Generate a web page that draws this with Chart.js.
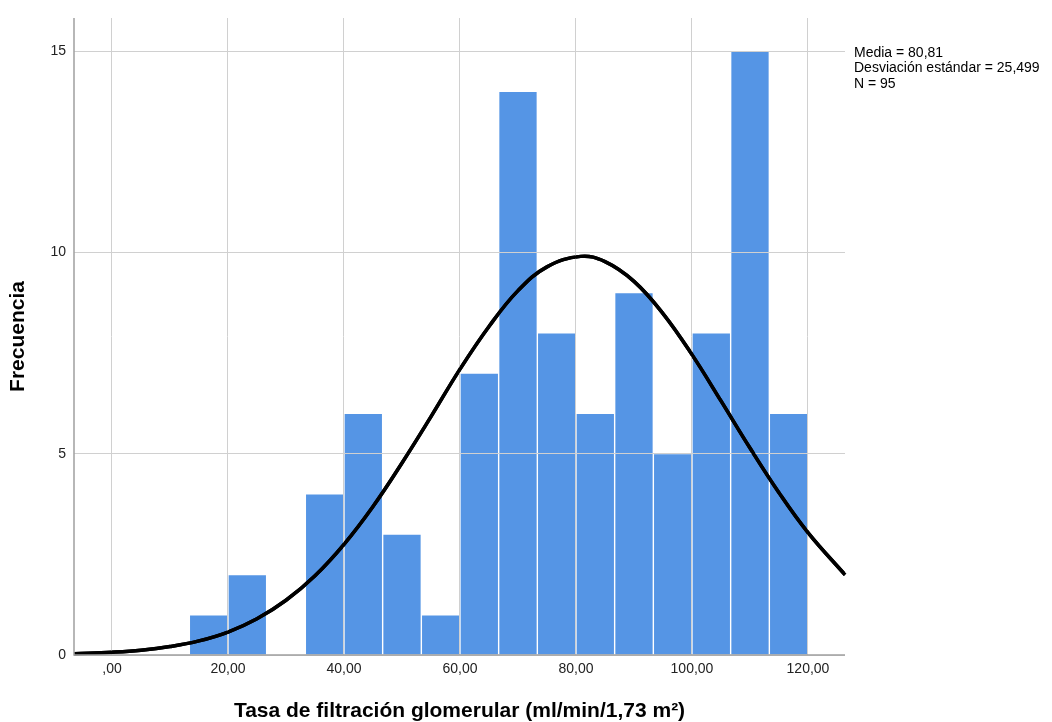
<!DOCTYPE html>
<html>
<head>
<meta charset="utf-8">
<script src="https://cdn.jsdelivr.net/npm/chart.js@4.4.0/dist/chart.umd.min.js"></script>
<style>
  html, body { margin: 0; padding: 0; background: #fff; }
  #wrap { width: 1052px; height: 722px; }
</style>
</head>
<body>
<div id="wrap"><canvas id="histChart" width="1052" height="722"></canvas></div>
<script>
// bin centres (width 6,667) and counts
const binCenters = [16.67, 23.33, 30.00, 36.67, 43.33, 50.00, 56.67, 63.33,
                    70.00, 76.67, 83.33, 90.00, 96.67, 103.33, 110.00, 116.67];
const counts = [1, 2, 0, 4, 6, 3, 1, 7, 14, 8, 6, 9, 5, 8, 15, 6];

// normal curve
const curveX = [-6.5, 0, 5, 10, 15, 20, 25, 30, 35, 40, 45, 50, 55, 60, 65,
                70, 75, 80.8, 85, 90, 95, 100, 105, 110, 115, 120, 126.4];
const curveY = [0.03, 0.07, 0.12, 0.21, 0.35, 0.57, 0.9, 1.36, 1.97, 2.75, 3.69, 4.77, 5.92, 7.1, 8.16,
                9.05, 9.64, 9.9, 9.77, 9.28, 8.48, 7.46, 6.31, 5.14, 4.03, 3.04, 1.99];

const xTicks = [0, 20, 40, 60, 80, 100, 120];
const yTicks = [0, 5, 10, 15];
const statsLines = ['Media = 80,81', 'Desviación estándar = 25,499', 'N = 95'];

const fontFamily = '"Liberation Sans", Arial, sans-serif';

// axis lines, curve on top of the grid, and the stats box
const extras = {
    id: 'extras',
    afterDraw(chart) {
        const c = chart.ctx;
        const a = chart.chartArea;
        chart.getDatasetMeta(0).controller.draw();
        c.save();
        c.strokeStyle = '#a0a0a0';
        c.lineWidth = 1.5;
        c.beginPath();
        c.moveTo(a.left, a.top);
        c.lineTo(a.left, a.bottom);
        c.lineTo(a.right, a.bottom);
        c.stroke();
        c.fillStyle = '#000';
        c.font = '14px ' + fontFamily;
        c.textBaseline = 'middle';
        statsLines.forEach((t, i) => c.fillText(t, a.right + 9, 53 + i * 15.5));
        c.restore();
    }
};

const ctx = document.getElementById('histChart').getContext('2d');
const histChart = new Chart(ctx, {
    type: 'bar',
    data: {
        datasets: [{
            type: 'line',
            data: curveX.map((x, i) => ({ x: x, y: curveY[i] })),
            borderColor: '#000',
            borderWidth: 3.5,
            pointRadius: 0,
            tension: 0.4,
            fill: false,
            order: 0
        }, {
            type: 'bar',
            data: binCenters.map((x, i) => ({ x: x, y: counts[i] })),
            backgroundColor: '#5595e5',
            borderColor: '#ffffff',
            borderWidth: 1,
            barPercentage: 1,
            categoryPercentage: 1,
            order: 1
        }]
    },
    options: {
        responsive: false,
        animation: false,
        layout: { padding: { left: 0, top: 18, right: 207, bottom: 0 } },
        plugins: {
            legend: { display: false },
            tooltip: { enabled: false }
        },
        scales: {
            x: {
                type: 'linear',
                offset: false,
                min: -6.55,
                max: 126.38,
                afterBuildTicks: (s) => { s.ticks = xTicks.map(v => ({ value: v })); },
                afterFit: (s) => { s.height = 67; },
                grid: { color: '#d0d0d0', lineWidth: 1, drawTicks: false, offset: false, z: 1 },
                border: { display: false },
                ticks: {
                    color: '#222',
                    padding: 6,
                    font: { family: fontFamily, size: 14 },
                    callback: (v) => v === 0 ? ',00' : v.toFixed(2).replace('.', ',')
                },
                title: {
                    display: true,
                    text: 'Tasa de filtración glomerular (ml/min/1,73 m²)',
                    color: '#000',
                    font: { family: fontFamily, size: 21, weight: 'bold', lineHeight: 1 },
                    padding: { top: 0, bottom: 0 }
                }
            },
            y: {
                min: 0,
                max: 15.82,
                afterBuildTicks: (s) => { s.ticks = yTicks.map(v => ({ value: v })); },
                afterFit: (s) => { s.width = 74; },
                grid: { color: '#d0d0d0', lineWidth: 1, drawTicks: false, z: 1 },
                border: { display: false },
                ticks: {
                    color: '#222',
                    padding: 8,
                    font: { family: fontFamily, size: 14 }
                },
                title: {
                    display: true,
                    text: 'Frecuencia',
                    color: '#000',
                    font: { family: fontFamily, size: 21, weight: 'bold', lineHeight: 1 },
                    padding: { top: 7.5, bottom: 0 }
                }
            }
        }
    },
    plugins: [extras]
});
</script>
</body>
</html>
